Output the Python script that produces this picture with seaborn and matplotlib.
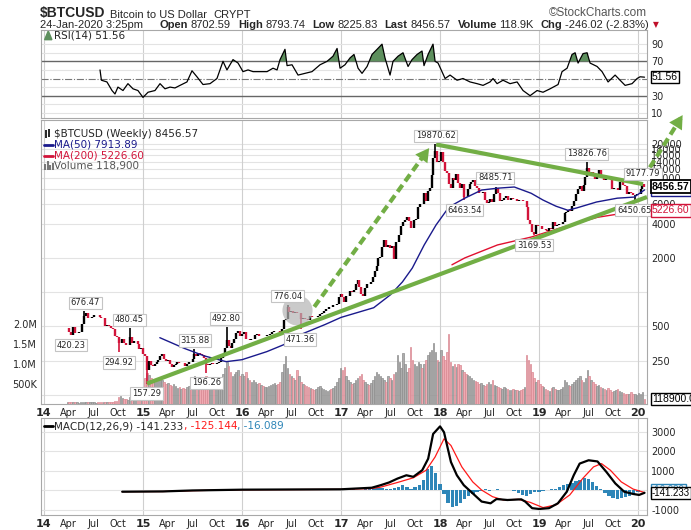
import numpy as np
import pandas as pd
import matplotlib
matplotlib.use('Agg')
import matplotlib.pyplot as plt
from matplotlib.ticker import NullLocator
import seaborn as sns

# weekly closes, Fri 28-Mar-2014 .. Fri 24-Jan-2020
close_2014 = [480, 450, 420, 490, 440, 440, 445, 450, 525, 620,
              650, 590, 595, 600, 630, 630, 625, 600, 590, 590,
              500, 515, 505, 485, 475, 410, 405, 355, 360, 385,
              355, 340, 345, 400, 355, 375, 375, 350, 318, 320]
close_2015 = [285, 275, 205, 250, 230, 225, 235, 245, 255, 275,
              285, 260, 250, 255, 235, 222, 230, 235, 242, 237,
              240, 237, 225, 232, 245, 243, 258, 285, 275, 290,
              285, 278, 265, 232, 228, 232, 238, 232, 235, 238,
              245, 263, 280, 325, 380, 335, 325, 357, 390, 435,
              455, 415]
close_2016 = [433, 450, 385, 385, 378, 385, 390, 420, 430, 410,
              412, 408, 416, 418, 420, 430, 450, 455, 460, 455,
              440, 470, 570, 580, 745, 665, 680, 650, 665, 655,
              655, 585, 587, 580, 578, 575, 620, 608, 603, 608,
              615, 640, 657, 688, 705, 715, 745, 740, 765, 772,
              790, 900, 960]
close_2017 = [900, 820, 920, 920, 1015, 995, 1055, 1180, 1270, 1110,
              970, 930, 1080, 1190, 1180, 1240, 1350, 1550, 1700, 2000,
              2050, 2500, 2850, 2500, 2600, 2450, 2520, 1950, 2750, 2750,
              3200, 3850, 4150, 4350, 4600, 4200, 3700, 3650, 4350, 4400,
              5650, 6000, 5900, 7400, 6350, 7800, 8200, 10800, 15000, 17500,
              14000, 14300]
close_2018 = [17100, 13800, 11500, 11200, 8900, 8300, 10100, 9700, 11000, 9200,
              8200, 8900, 6900, 6800, 8000, 8850, 9300, 9700, 8500, 8250,
              7400, 7500, 7650, 6450, 6050, 6200, 6600, 6250, 7350, 8200,
              7400, 6300, 6400, 6700, 7000, 6450, 6500, 6700, 6600, 6600,
              6300, 6450, 6400, 6350, 6350, 5600, 4300, 4000, 3400, 3250,
              3900, 3850]
close_2019 = [3800, 3600, 3600, 3550, 3450, 3650, 3600, 4100, 3820, 3900,
              3950, 4000, 4100, 5000, 5050, 5300, 5200, 5750, 6350, 7250,
              8000, 8550, 7800, 8700, 10200, 12400, 11000, 11400, 10500, 9850,
              10800, 11850, 10350, 10400, 9600, 10500, 10350, 10000, 8050, 8150,
              8300, 7950, 9250, 9250, 8800, 8500, 7300, 7550, 7500, 7100,
              7150, 7250]
close_2020 = [7350, 8050, 8900, 8456.57]

# weekly volume, thousands
vol_2014 = [45, 50, 55, 40, 45, 40, 35, 40, 55, 60,
            55, 45, 40, 45, 40, 35, 40, 45, 50, 55,
            50, 45, 50, 55, 60, 65, 70, 180, 200, 150,
            130, 120, 110, 170, 130, 100, 110, 120, 140, 180]
vol_2015 = [300, 650, 780, 720, 650, 600, 550, 580, 620, 650,
            600, 550, 500, 520, 480, 450, 500, 450, 400, 420,
            380, 400, 380, 420, 450, 500, 600, 700, 650, 600,
            550, 500, 600, 700, 600, 500, 480, 450, 420, 450,
            500, 600, 750, 900, 1050, 950, 800, 700, 750, 800,
            850, 700]
vol_2016 = [750, 700, 800, 650, 600, 550, 600, 550, 500, 520,
            480, 450, 430, 420, 450, 480, 500, 520, 480, 500,
            550, 800, 1000, 1200, 900, 750, 700, 650, 600, 850,
            700, 550, 500, 480, 450, 420, 400, 380, 350, 380,
            420, 450, 400, 380, 350, 330, 350, 380, 400, 450,
            550, 650, 900]
vol_2017 = [850, 920, 700, 600, 550, 500, 520, 600, 650, 700,
            750, 600, 550, 500, 480, 520, 600, 700, 800, 750,
            700, 650, 600, 550, 700, 650, 600, 750, 800, 1220,
            1050, 900, 1270, 1000, 800, 900, 1420, 1100, 1000, 950,
            1050, 1000, 900, 1000, 1100, 1220, 1300, 1350, 1520, 1300,
            1100, 1050]
vol_2018 = [1350, 1200, 1100, 1300, 1750, 1050, 950, 1000, 920, 1000,
            970, 850, 800, 750, 720, 700, 650, 600, 580, 550,
            500, 520, 480, 450, 500, 550, 500, 600, 480, 450,
            420, 400, 380, 420, 400, 380, 350, 360, 380, 350,
            340, 330, 350, 380, 420, 1220, 1100, 1000, 800, 650,
            550, 600]
vol_2019 = [500, 450, 420, 380, 350, 330, 400, 420, 380, 360,
            350, 380, 420, 600, 550, 480, 450, 500, 550, 600,
            650, 700, 600, 550, 650, 850, 700, 600, 550, 500,
            450, 480, 420, 400, 380, 350, 400, 350, 300, 330,
            350, 380, 320, 300, 280, 260, 250, 240, 300, 260,
            250, 220]
vol_2020 = [280, 260, 300, 118.9]

# moving averages (fractional year, price)
ma50_t = [2015.17, 2015.42, 2015.62, 2015.84, 2016.0, 2016.25, 2016.42, 2016.58,
          2016.84, 2017.0, 2017.33, 2017.5, 2017.62, 2017.72, 2017.84, 2017.96,
          2018.09, 2018.25, 2018.42, 2018.58, 2018.75, 2018.92, 2019.04, 2019.17,
          2019.29, 2019.38, 2019.58, 2019.79, 2019.96, 2020.065]
ma50 = [398, 320, 275, 245, 255, 300, 345, 420, 520, 600, 730, 950, 1230, 1630,
        2600, 3900, 5600, 6700, 7900, 8200, 8400, 7400, 6450, 5700, 5250, 5500,
        6200, 6700, 6850, 7913.89]
ma200_t = [2018.12, 2018.25, 2018.58, 2018.92, 2019.25, 2019.59, 2019.92, 2020.065]
ma200 = [1740, 2000, 2600, 3050, 3750, 4550, 5050, 5226.60]

# RSI(14)
rsi_t = [2014.566, 2014.58, 2014.636, 2014.687, 2014.717, 2014.747, 2014.798, 2014.848, 2014.899, 2014.949,
         2015.0, 2015.051, 2015.121, 2015.172, 2015.222, 2015.273, 2015.323, 2015.374, 2015.444, 2015.495,
         2015.545, 2015.606, 2015.677, 2015.747, 2015.808, 2015.848, 2015.909, 2015.96, 2016.01, 2016.061,
         2016.111, 2016.182, 2016.253, 2016.313, 2016.354, 2016.384, 2016.434, 2016.455, 2016.505, 2016.566,
         2016.636, 2016.707, 2016.788, 2016.859, 2016.919, 2016.96, 2016.99, 2017.04, 2017.091, 2017.131,
         2017.172, 2017.212, 2017.263, 2017.313, 2017.364, 2017.414, 2017.444, 2017.495, 2017.525, 2017.576,
         2017.626, 2017.677, 2017.717, 2017.768, 2017.818, 2017.838, 2017.879, 2017.929, 2017.95, 2017.98,
         2018.051, 2018.101, 2018.172, 2018.232, 2018.303, 2018.374, 2018.434, 2018.505, 2018.535, 2018.576,
         2018.636, 2018.707, 2018.778, 2018.838, 2018.909, 2018.98, 2019.04, 2019.111, 2019.192, 2019.232,
         2019.283, 2019.333, 2019.364, 2019.394, 2019.444, 2019.485, 2019.515, 2019.586, 2019.636, 2019.697,
         2019.768, 2019.818, 2019.869, 2019.939, 2019.99, 2020.02, 2020.065]
rsi = [60, 48, 46, 36, 32, 40, 36, 44, 38, 36,
       28, 34, 36, 44, 38, 40, 39, 42, 46, 59,
       52, 43, 44, 50, 70, 60, 72, 68, 58, 60,
       58, 58, 58, 62, 60, 72, 84, 65, 66, 54,
       56, 58, 66, 70, 76, 85, 62, 66, 74, 78,
       62, 56, 64, 78, 84, 90, 74, 54, 70, 76,
       80, 64, 72, 78, 82, 65, 78, 90, 70, 68,
       50, 54, 48, 50, 46, 44, 42, 46, 50, 44,
       48, 44, 46, 36, 30, 36, 34, 38, 43, 58,
       62, 78, 80, 68, 79, 80, 68, 64, 58, 46,
       54, 48, 42, 44, 50, 52, 51.56]

# MACD(12,26,9)
macd_t = [2014.79, 2015.2, 2015.5, 2016.0, 2016.5, 2017.0, 2017.31, 2017.40, 2017.485, 2017.57,
          2017.66, 2017.73, 2017.82, 2017.88, 2017.93, 2018.0, 2018.04, 2018.11, 2018.17, 2018.24,
          2018.33, 2018.42, 2018.51, 2018.57, 2018.68, 2018.82, 2018.86, 2018.93, 2019.0, 2019.10,
          2019.19, 2019.28, 2019.35, 2019.41, 2019.50, 2019.59, 2019.68, 2019.77, 2019.86, 2019.95,
          2020.01, 2020.065]
macd = [-85, -70, -20, 20, 30, 40, 120, 250, 390, 590,
        760, 680, 1020, 1610, 2880, 3270, 2970, 1440, 760, 250,
        -170, -590, -680, -460, -510, -475, -590, -930, -970, -930,
        -680, -85, 760, 1360, 1530, 1470, 930, 340, -85, -200,
        -250, -141.233]
sig_t = [2014.79, 2015.2, 2015.5, 2016.0, 2016.5, 2017.0, 2017.31, 2017.40, 2017.57, 2017.73,
         2017.86, 2017.95, 2018.04, 2018.11, 2018.22, 2018.33, 2018.42, 2018.53, 2018.64, 2018.79,
         2018.91, 2019.04, 2019.17, 2019.31, 2019.44, 2019.55, 2019.63, 2019.72, 2019.83, 2019.95,
         2020.065]
signal = [-80, -75, -30, 15, 25, 35, 80, 150, 390, 630,
          1020, 1700, 2630, 2290, 1190, 420, 0, -340, -510, -475,
          -630, -900, -760, -250, 590, 1190, 1360, 1020, 420, 50,
          -125.144]
# histogram, half-month steps from 2014.79
hist = [-10, -15, -10, -5, 5,
        10, 5, 10, 15, 5, -5, -10, -5, 5, 10, 5, 0, 10, 15, 10, -5, -10, -5, 5, 10, 20, 15, 20, 10,
        5, -5, 0, 5, 5, 0, 10, 15, 25, 10, -10, -15, -5, 0, 5, 10, 10, 15, 20, 25, 30, 20, 15, 25,
        30, 10, 15, 30, 10, -20, 30, 60, 100, 150, 90, 60, 40, 120, 180, 250, 150, 60, 150, 250, 500, 1100, 1250, 900,
        300, -200, -650, -850, -800, -650, -450, -300, -200, -100, -50, 50, -50, 0, 30, 20, 0, -20, -60, -150, -250, -300, -200, -120,
        -100, -50, -20, 30, 80, 150, 250, 300, 380, 450, 520, 600, 550, 400, 200, 50, -150, -300, -420, -450, -400, -350, -300, -200,
        -80, -16.089]

# labelled highs / lows
label_dates = ['2014-06-02', '2014-04-11', '2014-11-12', '2014-10-05', '2015-01-14', '2015-07-12',
               '2015-08-24', '2015-11-04', '2016-06-17', '2016-08-02', '2017-12-17', '2018-04-01',
               '2018-07-24', '2018-12-15', '2019-06-26', '2019-12-18', '2020-01-19']
label_values = [676.47, 420.23, 480.45, 294.92, 157.29, 315.88, 196.26, 492.80, 776.04, 471.36,
                19870.62, 6463.54, 8485.71, 3169.53, 13826.76, 6450.65, 9177.79]
label_side = ['up', 'down', 'up', 'down', 'down', 'up', 'down', 'up', 'up', 'down',
              'up', 'down', 'up', 'down', 'up', 'down', 'up']

# drawn trend lines (fractional year, price)
trend_low_t, trend_low_p = [2015.04, 2020.09], [157.29, 6860]
trend_high_t, trend_high_p = [2017.96, 2020.05], [19870.62, 8900]
arrow1_t, arrow1_p = [2016.73, 2017.89], [743, 18470]
arrow2_t, arrow2_p = [2020.05, 2020.45], [10000, 36000]
circle_t, circle_p = 2016.556, 700

RED = '#d2143a'
NAVY = '#1a1a8c'
GREEN = '#72ae45'
BLUE = '#2e86b8'
GRID = '#e3e3e3'
VGRID = '#cfcfcf'
SPINE = '#a8a8a8'
XMIN, XMAX = 2013.97, 2020.09

sns.set_theme(style='white')
plt.rcParams['font.family'] = ['DejaVu Sans']


def yr(d):
    d = pd.to_datetime(d)
    return d.year + (d.dayofyear - 1) / 365.25


closes = np.array(close_2014 + close_2015 + close_2016 + close_2017 + close_2018 + close_2019 + close_2020)
vols = np.array(vol_2014 + vol_2015 + vol_2016 + vol_2017 + vol_2018 + vol_2019 + vol_2020) * 1000
t_week = np.asarray(yr(pd.date_range('2014-03-28', periods=len(closes), freq='7D')), dtype=float)
prev = np.r_[closes[0], closes[:-1]]
up = closes >= prev

fig = plt.figure(figsize=(6.91, 5.30), dpi=100)
fig.patch.set_facecolor('white')


def rect(top, bottom):
    return [41 / 691, 1 - bottom / 530, 606 / 691, (bottom - top) / 530]


xt, xl = [], []
for y in range(2014, 2021):
    for off, lab in [(0, '%02d' % (y % 100)), (0.246, 'Apr'), (0.496, 'Jul'), (0.748, 'Oct')]:
        if y + off <= XMAX:
            xt.append(y + off)
            xl.append(lab)


def base(a, show_spines=True):
    a.set_xlim(XMIN, XMAX)
    for s in a.spines.values():
        s.set_visible(show_spines)
        s.set_color(SPINE)
        s.set_linewidth(0.8)
    a.tick_params(length=0, labelsize=7, pad=3)


def xlabels(a):
    a.set_xticks(xt)
    a.set_xticklabels(xl)
    for lab in a.get_xticklabels():
        if lab.get_text().isdigit():
            lab.set_fontweight('bold')
            lab.set_fontsize(8)


def tag(a, val, text, color='black', weight='normal', z=10, lw=1, size=7.5):
    a.annotate(text, xy=(1, val), xycoords=a.get_yaxis_transform(),
               xytext=(3.5, 0), textcoords='offset points', va='center', ha='left',
               fontsize=size, color=color, fontweight=weight, zorder=z, annotation_clip=False,
               family=['Liberation Sans', 'DejaVu Sans'],
               bbox=dict(boxstyle='square,pad=0.12', fc='white', ec=color, lw=lw))


# ---------- RSI panel ----------
ax_rsi = fig.add_axes(rect(30, 118))
base(ax_rsi)
ax_rsi.set_ylim(4, 106.5)
for y in range(2014, 2021):
    ax_rsi.axvline(y, color=VGRID, lw=0.8, zorder=0)
for lvl in [10, 20, 40, 60, 80, 90]:
    ax_rsi.axhline(lvl, color=GRID, lw=0.8, zorder=0)
ax_rsi.axhline(70, color='#666666', lw=1, zorder=1)
ax_rsi.axhline(30, color='#666666', lw=1, zorder=1)
ax_rsi.axhline(50, color='#777777', lw=0.8, ls='-.', zorder=1)
r = np.array(rsi)
ax_rsi.fill_between(rsi_t, 70, r, where=r > 70, interpolate=True, color='#5d8f5d', lw=0, zorder=2)
sns.lineplot(x=rsi_t, y=rsi, ax=ax_rsi, color='black', lw=0.9, legend=False, zorder=3)
ax_rsi.set_xticks(xt)
ax_rsi.tick_params(labelbottom=False)
ax_rsi.yaxis.tick_right()
ax_rsi.set_yticks([10, 30, 50, 70, 90])
ax_rsi.set_yticklabels(['10', '30', '', '70', '90'])
ax_rsi.set_xlabel('')
ax_rsi.set_ylabel('')
tag(ax_rsi, rsi[-1], '51.56')
ax_rsi.fill([0.006, 0.012, 0.018], [0.89, 0.99, 0.89], transform=ax_rsi.transAxes, color='#5d8f5d')
ax_rsi.text(0.022, 0.94, 'RSI(14) 51.56', transform=ax_rsi.transAxes, fontsize=7.5, va='center')

# ---------- price / volume panel ----------
gax = fig.add_axes(rect(120, 404))
base(gax)
gax.set_yscale('log')
gax.set_ylim(104, 32600)
price_ticks = [125, 250, 500, 1000, 2000, 4000, 6000, 8000, 10000, 12000, 14000, 16000, 18000, 20000]
for p in price_ticks:
    gax.axhline(p, color=GRID, lw=0.8, zorder=0)
for y in range(2014, 2021):
    gax.axvline(y, color=VGRID, lw=0.8, zorder=0)
gax.set_xticks([])
gax.set_yticks([])
gax.yaxis.set_minor_locator(NullLocator())

vax = fig.add_axes(rect(120, 404))
base(vax, show_spines=False)
vax.patch.set_visible(False)
vax.set_ylim(0, 7.1e6)
vax.bar(t_week, vols, width=0.0155, color=np.where(up, '#adadad', '#efaab2'),
        edgecolor=np.where(up, '#8e8e8e', '#d98892'), linewidth=0.5)
vax.set_xticks([])
vax.set_yticks([5e5, 1e6, 1.5e6, 2e6])
vax.set_yticklabels(['500K', '1.0M', '1.5M', '2.0M'])
tag(vax, 118900, '118900.0')

ax = fig.add_axes(rect(120, 404))
base(ax, show_spines=False)
ax.patch.set_visible(False)
ax.set_yscale('log')
ax.set_ylim(104, 32600)
ax.yaxis.tick_right()
ax.set_yticks(price_ticks)
ax.set_yticklabels(['' if p in (125, 1000, 8000) else str(p) for p in price_ticks])
ax.yaxis.set_minor_locator(NullLocator())
xlabels(ax)

ax.vlines(t_week, np.minimum(prev, closes), np.maximum(prev, closes),
          colors=np.where(up, 'black', RED), lw=1.7, zorder=3)
label_t = [yr(d) for d in label_dates]
for lt, lv, side in zip(label_t, label_values, label_side):
    i = int(np.argmin(np.abs(t_week - lt)))
    ax.vlines(t_week[i], min(closes[i], lv), max(closes[i], lv),
              colors='black' if up[i] else RED, lw=1.2, zorder=3)

sns.lineplot(x=ma50_t, y=ma50, ax=ax, color=NAVY, lw=1, legend=False, zorder=4)
sns.lineplot(x=ma200_t, y=ma200, ax=ax, color='#e0102f', lw=1, legend=False, zorder=4)
ax.set_xlabel('')
ax.set_ylabel('')

ax.scatter([circle_t], [circle_p], s=470, color='#b4b4b4', alpha=0.7, lw=0, zorder=5)
ax.plot(trend_low_t, trend_low_p, color=GREEN, lw=3, solid_capstyle='butt', zorder=6, clip_on=False)
ax.plot(trend_high_t, trend_high_p, color=GREEN, lw=3, solid_capstyle='butt', zorder=6, clip_on=False)


def arrow(ts, ps):
    def at(f):
        return (ts[0] + f * (ts[1] - ts[0]),
                float(np.exp(np.log(ps[0]) + f * (np.log(ps[1]) - np.log(ps[0])))))
    e = at(0.95)
    ax.plot([ts[0], e[0]], [ps[0], e[1]], color=GREEN, lw=3, ls=(0, (2, 1.1)),
            dash_capstyle='butt', zorder=6, clip_on=False)
    ax.annotate('', xy=(ts[1], ps[1]), xytext=at(0.8), annotation_clip=False, zorder=6,
                arrowprops=dict(arrowstyle='-|>,head_length=0.8,head_width=0.45', color=GREEN,
                                lw=0, mutation_scale=12, shrinkA=0, shrinkB=0))


arrow(arrow1_t, arrow1_p)
arrow(arrow2_t, arrow2_p)

for lt, lv, side in zip(label_t, label_values, label_side):
    ax.annotate('%.2f' % lv, xy=(lt, lv), xytext=(0, 3 if side == 'up' else -4),
                textcoords='offset points', ha='center', va='bottom' if side == 'up' else 'top',
                fontsize=6, zorder=8,
                bbox=dict(boxstyle='square,pad=0.2', fc='white', ec='#c4c4c4', lw=0.8))

tag(ax, 7913.89, '7913.89', color=NAVY, z=9)
tag(ax, 5226.60, '5226.60', color=RED, z=9)
tag(ax, 8456.57, '8456.57', weight='bold', z=11, lw=1.3)

ax.vlines([0.008, 0.013], [0.935, 0.94], [0.965, 0.97], transform=ax.transAxes, color='black', lw=1.2)
ax.text(0.022, 0.951, r'\$BTCUSD (Weekly) 8456.57', transform=ax.transAxes, fontsize=7.5, va='center')
ax.plot([0.005, 0.019], [0.913, 0.913], transform=ax.transAxes, color=NAVY, lw=2)
ax.text(0.022, 0.913, 'MA(50) 7913.89', transform=ax.transAxes, fontsize=7.5, va='center', color=NAVY)
ax.plot([0.005, 0.019], [0.875, 0.875], transform=ax.transAxes, color=RED, lw=2)
ax.text(0.022, 0.875, 'MA(200) 5226.60', transform=ax.transAxes, fontsize=7.5, va='center', color=RED)
ax.vlines([0.007, 0.011, 0.015, 0.019], [0.825] * 4, [0.845, 0.855, 0.84, 0.85],
          transform=ax.transAxes, color='#777777', lw=1.5)
ax.text(0.022, 0.837, 'Volume 118,900', transform=ax.transAxes, fontsize=7.5, va='center', color='#555555')

# ---------- MACD panel ----------
ax_m = fig.add_axes(rect(418, 515))
base(ax_m)
ax_m.set_ylim(-1280, 3700)
for y in range(2014, 2021):
    ax_m.axvline(y, color=VGRID, lw=0.8, zorder=0)
for lvl in [-1000, 0, 1000, 2000, 3000]:
    ax_m.axhline(lvl, color=GRID, lw=0.8, zorder=0)
hist_t = 2014.79 + np.arange(len(hist)) / 24
ax_m.bar(hist_t, hist, width=0.034, color=BLUE, lw=0, zorder=2)
sns.lineplot(x=sig_t, y=signal, ax=ax_m, color='#ff1a1a', lw=0.9, legend=False, zorder=3)
sns.lineplot(x=macd_t, y=macd, ax=ax_m, color='black', lw=1.6, legend=False, zorder=4)
ax_m.set_xlabel('')
ax_m.set_ylabel('')
ax_m.yaxis.tick_right()
ax_m.set_yticks([-1000, 0, 1000, 2000, 3000])
ax_m.set_yticklabels(['-1000', '', '1000', '2000', '3000'])
xlabels(ax_m)
tag(ax_m, -20, '-16.089', color=BLUE, z=9, size=7)
tag(ax_m, macd[-1], '-141.233', z=11, size=7)
ax_m.plot([0.005, 0.019], [0.915, 0.915], transform=ax_m.transAxes, color='black', lw=2)
m1 = ax_m.text(0.022, 0.915, 'MACD(12,26,9) -141.233', transform=ax_m.transAxes, fontsize=7.5, va='center')
m2 = ax_m.annotate(', -125.144', xy=(1, 0), xycoords=m1, va='bottom', fontsize=7.5, color='#ff1a1a')
ax_m.annotate(', -16.089', xy=(1, 0), xycoords=m2, va='bottom', fontsize=7.5, color=BLUE)

# ---------- header ----------
HFONT = ['Liberation Sans Narrow', 'Liberation Sans', 'DejaVu Sans']
h1 = fig.text(40 / 691, 1 - 17 / 530, r'\$BTCUSD', fontsize=10, fontweight='bold', family=HFONT)
h2 = ax_rsi.annotate('Bitcoin to US Dollar', xy=(1, 0), xycoords=h1, xytext=(3, 0),
                     textcoords='offset points', va='bottom', fontsize=8, family=HFONT)
ax_rsi.annotate('CRYPT', xy=(1, 0), xycoords=h2, xytext=(5, 0), textcoords='offset points',
                va='bottom', fontsize=8, family=HFONT)
fig.text(647 / 691, 1 - 16 / 530, '\u00a9StockCharts.com', ha='right', fontsize=8.5,
         color='#555555', family=HFONT)

prev_t = fig.text(40 / 691, 1 - 28.5 / 530, '24-Jan-2020 3:25pm', fontsize=8, family=HFONT)
pieces = [('Open', 'bold', 12), ('8702.59', 'normal', 2), ('High', 'bold', 5), ('8793.74', 'normal', 2),
          ('Low', 'bold', 5), ('8225.83', 'normal', 2), ('Last', 'bold', 5), ('8456.57', 'normal', 2),
          ('Volume', 'bold', 5), ('118.9K', 'normal', 2), ('Chg', 'bold', 5), ('-246.02 (-2.83%)', 'normal', 2)]
for s, w, gap in pieces:
    prev_t = ax_rsi.annotate(s, xy=(1, 0), xycoords=prev_t, xytext=(gap, 0), textcoords='offset points',
                             va='bottom', fontsize=8, fontweight=w, family=HFONT)
ax_rsi.annotate('\u25bc', xy=(1, 0), xycoords=prev_t, xytext=(3, 1), textcoords='offset points',
                va='bottom', fontsize=5.5, color='#c0102a')

fig.savefig('out.png', dpi=100, facecolor='white')
